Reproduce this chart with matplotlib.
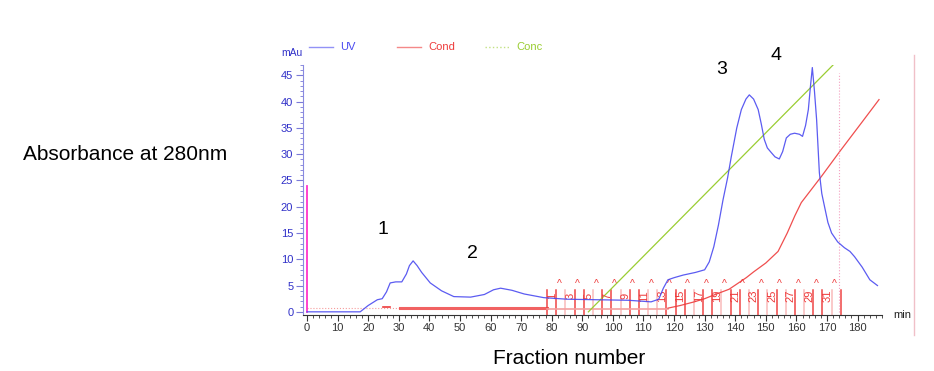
import numpy as np
import matplotlib.pyplot as plt
from matplotlib.lines import Line2D
from matplotlib.ticker import MultipleLocator

plt.rcParams['font.family'] = ['Liberation Sans', 'DejaVu Sans']

# UV absorbance trace (mAu) vs time (min)
uv_x = [0, 17.4, 20, 23, 24.6, 26, 27.2, 29, 31, 32.5, 33.5, 34.7, 36, 37.5, 40.3, 44, 48,
        53.5, 58, 61, 63.3, 67, 71, 77.4, 85, 95, 105, 112.5, 115, 116.5, 118, 120, 123, 127,
        130, 131.5, 133, 134.5, 136, 137.5, 138.7, 140.5, 142, 143.5, 144.6, 146, 147.5,
        148.5, 149.5, 150.5, 151.8, 153, 154.4, 155.5, 156.7, 158, 159.4, 161, 162, 163,
        163.9, 164.6, 165.2, 165.9, 166.6, 167.5, 168.3, 169.2, 170.3, 171.5, 173.5, 175.7,
        177.5, 179, 181.5, 184, 186.5]
uv_y = [0, 0, 1.2, 2.3, 2.5, 3.8, 5.5, 5.7, 5.7, 7.2, 8.8, 9.7, 8.8, 7.5, 5.5, 4.0, 2.9,
        2.8, 3.3, 4.2, 4.5, 4.1, 3.4, 2.7, 2.4, 2.3, 2.2, 1.9, 2.4, 4.5, 6.1, 6.5, 7.0, 7.5,
        8.0, 9.5, 12.4, 16.5, 21.3, 25.5, 29.5, 35, 38.5, 40.5, 41.3, 40.5, 38.5,
        35.8, 32.8, 31.2, 30.3, 29.5, 29.1, 30.5, 33.1, 33.8, 34.0, 33.8, 33.4, 35.5,
        38.5, 43, 46.5, 42, 36.6, 26.5, 22.5, 20.0, 17.0, 15.0, 13.3, 12.2,
        11.5, 10.5, 8.5, 6.1, 5.0]

# Conductivity trace
cond_x = [118, 122, 126.6, 130, 133, 138, 143.6, 146, 150, 154, 157, 159.5, 161.6,
          168.2, 174.4, 181.3, 187]
cond_y = [0.7, 1.2, 1.9, 2.5, 3.2, 4.3, 6.5, 7.6, 9.3, 11.5, 15.0, 18.3, 20.8,
          25.8, 30.7, 36.0, 40.4]

# Concentration gradient
conc_x = [92, 172]
conc_y = [0, 47]

# Fractions
frac_start = 78.5
frac_width = 3
n_frac = 32
faint_bounds = [2, 5, 8, 11, 12, 16, 19, 22, 24, 26, 28, 31]

fig = plt.figure(figsize=(9.34, 3.71), dpi=100)
ax = fig.add_axes([0.3244, 0.151, 0.6200, 0.674])

blue = '#4a4af0'
red = '#ee3b3b'
green = '#9acd32'

# fraction markers
bounds = [frac_start + frac_width * k for k in range(n_frac + 1)]
for k, b in enumerate(bounds):
    ax.plot([b, b], [-0.6, 4.2], color=red, lw=1.1,
            alpha=0.35 if k in faint_bounds else 0.95, zorder=2)
for i in range(1, n_frac + 1, 2):
    xc = frac_start + frac_width * (i - 1) + 1.6
    ax.text(xc, 3.0, str(i), color=red, fontsize=8, rotation=90,
            ha='center', va='center', zorder=3)
for k in range(16):
    ax.text(82.5 + 6 * k, 5.3, '^', color=red, fontsize=7.5, ha='center', va='center')

# conductivity flat parts
ax.plot([0, 30], [0.8, 0.8], color=red, lw=0.8, ls=':', alpha=0.5)
ax.plot([25, 27], [0.9, 0.9], color=red, lw=1.2)
ax.plot([30.5, 78.5], [0.8, 0.8], color=red, lw=2.2, alpha=0.8)
ax.plot([78.5, 118], [0.6, 0.6], color='#f4a0a0', lw=1.2)

ax.plot(cond_x, cond_y, color=red, lw=0.9, alpha=0.9)
ax.plot(conc_x, conc_y, color=green, lw=0.9)
ax.plot(uv_x, uv_y, color=blue, lw=0.9, alpha=0.9, zorder=4)

# injection mark and end-of-fractions line
ax.plot([0, 0], [0, 24], color='#ff33cc', lw=1.3)
ax.plot([174, 174], [0, 45.5], color='#f4a0c0', lw=0.8, ls=':')

ax.set_xlim(-1.3, 188)
ax.set_ylim(-0.6, 47)
ax.xaxis.set_minor_locator(MultipleLocator(2))
ax.yaxis.set_minor_locator(MultipleLocator(1))
ax.set_yticks(range(0, 50, 5))
ax.set_xticks(range(0, 190, 10))
ax.tick_params(axis='x', which='major', length=4, width=0.8, labelsize=8, pad=2,
               colors='#333333')
ax.tick_params(axis='x', which='minor', length=2.5, width=0.6, colors='#333333')
ax.tick_params(axis='y', which='major', length=5, width=0.8, labelsize=8, pad=2,
               colors='#7a7ad8', labelcolor='#3030c8')
ax.tick_params(axis='y', which='minor', length=2.5, width=0.6, colors='#7a7ad8')
for s in ['top', 'right']:
    ax.spines[s].set_visible(False)
ax.spines['left'].set_color('#8a8ae0')
ax.spines['bottom'].set_color('#333333')
ax.spines['bottom'].set_linewidth(0.8)

# header legend
fig.text(281 / 934, 1 - 53 / 371, 'mAu', color='#3030c8', fontsize=7.5, va='center')
leg = [('UV', blue, '-', 309), ('Cond', red, '-', 397), ('Conc', green, ':', 485)]
for name, col, ls, px in leg:
    fig.add_artist(Line2D([px / 934, (px + 24) / 934], [1 - 47 / 371] * 2,
                          color=col, lw=1.0, ls=ls, alpha=0.6))
    fig.text((px + 31) / 934, 1 - 47 / 371, name, color=col, fontsize=8, va='center')
fig.text(893 / 934, 1 - 315 / 371, 'min', color='#222222', fontsize=8, va='center')
fig.add_artist(Line2D([914 / 934] * 2, [1 - 55 / 371, 1 - 335 / 371],
                      color='#f0c0c8', lw=1.0))

# peak numbers and labels
for txt, px, py in [('1', 383, 230), ('2', 472, 253), ('3', 722, 70), ('4', 776, 55)]:
    fig.text(px / 934, 1 - py / 371, txt, fontsize=14, ha='center', va='center')
fig.text(23 / 934, 1 - 154 / 371, 'Absorbance at 280nm', fontsize=15, va='center')
fig.text(493 / 934, 1 - 358 / 371, 'Fraction number', fontsize=15, va='center')

fig.savefig('out.png', dpi=100, facecolor='white')
